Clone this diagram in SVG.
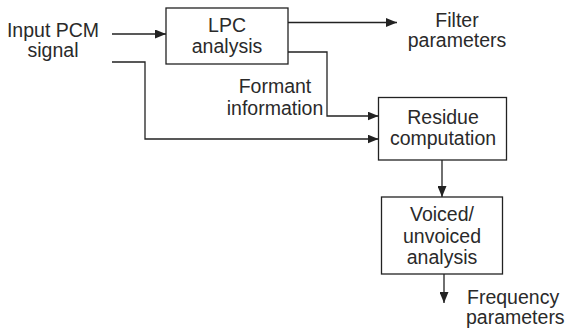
<svg xmlns="http://www.w3.org/2000/svg" width="566" height="329" viewBox="0 0 566 329">
  <defs>
    <marker id="arrow" markerUnits="userSpaceOnUse" markerWidth="11" markerHeight="9" refX="11" refY="4.5" orient="auto">
      <path d="M0,0 L11,4.5 L0,9 z" fill="#222"/>
    </marker>
    <style>
      .box { fill: #fff; stroke: #222; stroke-width: 1.3; }
      .wire { fill: none; stroke: #222; stroke-width: 1.3; }
      text { font-family: "Liberation Sans", Arial, Helvetica, sans-serif; font-size: 19.5px; fill: #2a2a2a; }
      .c { text-anchor: middle; }
    </style>
  </defs>
  <rect width="566" height="329" fill="#fff"/>

  <!-- free labels -->
  <g id="input-label">
    <text class="c" x="53" y="37">Input PCM</text>
    <text class="c" x="53" y="57">signal</text>
  </g>
  <g id="filter-label">
    <text class="c" x="457" y="27">Filter</text>
    <text class="c" x="457" y="47">parameters</text>
  </g>
  <g id="formant-label">
    <text class="c" x="275" y="93">Formant</text>
    <text class="c" x="275" y="115">information</text>
  </g>
  <g id="frequency-label">
    <text x="467" y="304">Frequency</text>
    <text x="466" y="324">parameters</text>
  </g>

  <!-- processing blocks -->
  <g id="lpc-analysis">
    <rect class="box" x="166" y="8" width="122" height="56"/>
    <text class="c" x="227" y="32">LPC</text>
    <text class="c" x="227" y="53">analysis</text>
  </g>
  <g id="residue-computation">
    <rect class="box" x="378.5" y="97.5" width="128" height="62.5"/>
    <text class="c" x="443" y="124">Residue</text>
    <text class="c" x="443" y="145">computation</text>
  </g>
  <g id="voiced-unvoiced-analysis">
    <rect class="box" x="381.5" y="197" width="121" height="77"/>
    <text class="c" x="442" y="221">Voiced/</text>
    <text class="c" x="442" y="243">unvoiced</text>
    <text class="c" x="442" y="264">analysis</text>
  </g>

  <!-- signal flow -->
  <g id="connectors">
    <path class="wire" d="M112,34 H166" marker-end="url(#arrow)"/>
    <path class="wire" d="M112,62 H145 V139 H378.5" marker-end="url(#arrow)"/>
    <path class="wire" d="M288,22.5 H397" marker-end="url(#arrow)"/>
    <path class="wire" d="M288,52 H327 V116 H378.5" marker-end="url(#arrow)"/>
    <path class="wire" d="M442,160 V197" marker-end="url(#arrow)"/>
    <path class="wire" d="M444,274 V303" marker-end="url(#arrow)"/>
  </g>
</svg>
